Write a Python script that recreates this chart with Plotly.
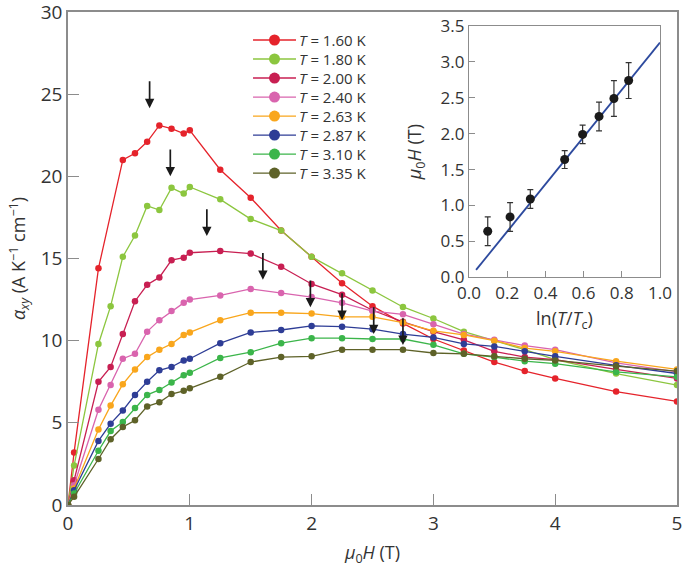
import plotly.graph_objects as go

# ---------------- data ----------------
temps = ["1.60", "1.80", "2.00", "2.40", "2.63", "2.87", "3.10", "3.35"]
colors = ["#e5232b", "#8cc63f", "#c81f52", "#d964ae", "#f9a61c", "#2e3d96", "#3bb54a", "#5e6228"]

field_red = [0, 0.05, 0.25, 0.45, 0.55, 0.65, 0.75, 0.85, 0.95, 1.0, 1.25, 1.5, 1.75,
             2.0, 2.25, 2.5, 2.75, 3.0, 3.25, 3.5, 3.75, 4.0, 4.5, 5.0]
field_all = [0, 0.05, 0.25, 0.35, 0.45, 0.55, 0.65, 0.75, 0.85, 0.95, 1.0, 1.25, 1.5, 1.75,
             2.0, 2.25, 2.5, 2.75, 3.0, 3.25, 3.5, 3.75, 4.0, 4.5, 5.0]

alpha_160 = [0, 3.2, 14.4, 21.0, 21.4, 22.1, 23.1, 22.9, 22.6, 22.8, 20.4, 18.7, 16.7,
             15.1, 13.5, 12.1, 11.05, 10.1, 9.4, 8.7, 8.15, 7.7, 6.9, 6.3]
alpha_180 = [0, 2.4, 9.8, 12.1, 15.1, 16.4, 18.2, 17.95, 19.3, 18.95, 19.35, 18.6, 17.4, 16.7,
             15.1, 14.1, 13.05, 12.05, 11.35, 10.55, 10.0, 9.45, 8.85, 8.0, 7.3]
alpha_200 = [0, 1.5, 7.5, 8.4, 10.4, 12.4, 13.4, 13.85, 14.9, 15.05, 15.35, 15.45, 15.3, 14.5,
             13.45, 12.8, 11.85, 11.15, 10.55, 10.05, 9.35, 9.0, 8.85, 8.25, 7.7]
alpha_240 = [0, 1.2, 5.8, 7.3, 8.9, 9.2, 10.55, 11.25, 11.8, 12.3, 12.5, 12.75, 13.15, 12.9,
             12.65, 12.3, 11.8, 11.6, 11.0, 10.4, 10.05, 9.7, 9.45, 8.65, 8.1]
alpha_263 = [0, 1.0, 4.6, 6.05, 7.35, 8.25, 9.0, 9.45, 9.8, 10.35, 10.5, 11.25, 11.7, 11.7,
             11.65, 11.45, 11.45, 11.1, 10.6, 10.35, 10.0, 9.55, 9.35, 8.75, 8.25]
alpha_287 = [0, 0.9, 3.9, 4.95, 5.75, 6.7, 7.5, 8.2, 8.4, 8.8, 8.9, 9.85, 10.5, 10.65,
             10.9, 10.85, 10.7, 10.4, 10.2, 9.8, 9.65, 9.35, 9.05, 8.5, 8.0]
alpha_310 = [0, 0.7, 3.3, 4.5, 5.05, 5.9, 6.7, 7.0, 7.45, 7.9, 8.05, 8.95, 9.3, 9.85,
             10.15, 10.15, 10.1, 10.1, 9.75, 9.2, 9.0, 8.75, 8.6, 8.1, 7.8]
alpha_335 = [0, 0.5, 2.8, 4.0, 4.75, 5.15, 6.0, 6.25, 6.75, 6.95, 7.1, 7.8, 8.7, 9.0,
             9.05, 9.45, 9.45, 9.45, 9.25, 9.2, 9.05, 8.9, 8.8, 8.45, 8.15]

series_x = [field_red] + [field_all] * 7
series_y = [alpha_160, alpha_180, alpha_200, alpha_240, alpha_263, alpha_287, alpha_310, alpha_335]

# arrows marking the kink field (tip position) on each curve
arrow_field = [0.67, 0.84, 1.14, 1.60, 1.99, 2.25, 2.51, 2.75]
arrow_tip = [24.15, 20.0, 16.37, 13.7, 12.03, 11.26, 10.4, 9.74]
arrow_len = 1.72

# inset
inset_lnT = [0.098, 0.215, 0.321, 0.501, 0.595, 0.681, 0.759, 0.836]
inset_H = [0.64, 0.84, 1.09, 1.64, 1.99, 2.24, 2.49, 2.74]
inset_err = [0.2, 0.2, 0.13, 0.125, 0.13, 0.2, 0.25, 0.25]
fit_slope = 3.29
fit_intercept = -0.02
fit_range = [0.037, 1.0]

# ---------------- figure ----------------
FONT = "Open Sans"
TXT = "#333333"
AX = "#8c8c8c"

fig = go.Figure()

for t, c, xs, ys in zip(temps, colors, series_x, series_y):
    fig.add_trace(go.Scatter(
        x=xs, y=ys, mode="lines+markers", showlegend=False,
        line=dict(color=c, width=1.3),
        marker=dict(color=c, size=6.5),
        xaxis="x", yaxis="y"))

# legend drawn on its own hidden axes: one row per temperature
for i, (t, c) in enumerate(zip(temps, colors)):
    fig.add_trace(go.Scatter(
        x=[0, 0.5, 1], y=[i, i, i], mode="lines", showlegend=False,
        line=dict(color=c, width=1.3), hoverinfo="skip",
        xaxis="x3", yaxis="y3"))
    fig.add_trace(go.Scatter(
        x=[0.5], y=[i], mode="markers", showlegend=False,
        marker=dict(color=c, size=11), hoverinfo="skip",
        xaxis="x3", yaxis="y3"))
    fig.add_annotation(x=1, y=i, xref="x3", yref="y3", text=f"<i>T</i> = {t} K",
                       showarrow=False, xanchor="left", yanchor="middle", xshift=1,
                       font=dict(family=FONT, size=15, color=TXT))

for xa, yt in zip(arrow_field, arrow_tip):
    fig.add_annotation(x=xa, y=yt, ax=xa, ay=yt + arrow_len, xref="x", yref="y",
                       axref="x", ayref="y", text="", showarrow=True,
                       arrowhead=2, arrowsize=1.1, arrowwidth=1.7, arrowcolor="#1a1a1a")

# inset traces
fig.add_trace(go.Scatter(
    x=fit_range, y=[fit_slope * v + fit_intercept for v in fit_range],
    mode="lines", line=dict(color="#2d4a9e", width=1.8), showlegend=False,
    xaxis="x2", yaxis="y2"))
fig.add_trace(go.Scatter(
    x=inset_lnT, y=inset_H, mode="markers", showlegend=False,
    marker=dict(color="#1a1a1a", size=9),
    error_y=dict(type="data", array=inset_err, color="#333333", thickness=1.2, width=3),
    xaxis="x2", yaxis="y2"))

fig.update_layout(
    width=685, height=569,
    margin=dict(l=68, r=8, t=12, b=64),
    paper_bgcolor="white", plot_bgcolor="white",
    font=dict(family=FONT, color=TXT, size=18),
    showlegend=False,
    xaxis=dict(range=[0, 5], tickvals=[0, 1, 2, 3, 4, 5], ticks="inside", ticklen=11,
               tickcolor=AX, showline=True, linecolor=AX, linewidth=1.5, mirror=True,
               showgrid=False, zeroline=False, tickfont=dict(size=19), automargin=False,
               ticklabeloverflow="allow",
               title=dict(text="<i>μ</i><sub>0</sub><i>H</i> (T)", font=dict(size=18), standoff=12)),
    yaxis=dict(range=[0, 30], tickvals=[0, 5, 10, 15, 20, 25, 30], ticks="inside", ticklen=11,
               tickcolor=AX, showline=True, linecolor=AX, linewidth=1.5, mirror=True,
               showgrid=False, zeroline=False, tickfont=dict(size=19), automargin=False,
               ticklabeloverflow="allow",
               title=dict(text="<i>α</i><sub><i>xy</i></sub> (A K<sup>−1</sup> cm<sup>−1</sup>)",
                          font=dict(size=18), standoff=10)),
    xaxis2=dict(domain=[0.6585, 0.972], anchor="y2", range=[0, 1],
                tickvals=[0, 0.2, 0.4, 0.6, 0.8, 1.0], tickformat=".1f",
                ticks="inside", ticklen=6, tickcolor=AX, showline=True, linecolor=AX,
                linewidth=1.3, mirror=True, showgrid=False, zeroline=False,
                tickfont=dict(size=17), automargin=False, ticklabeloverflow="allow",
                title=dict(text="ln(<i>T</i>/<i>T</i><sub>c</sub>)", font=dict(size=18), standoff=9)),
    yaxis2=dict(domain=[0.462, 0.9716], anchor="x2", range=[0, 3.5],
                tickvals=[0, 0.5, 1.0, 1.5, 2.0, 2.5, 3.0, 3.5], tickformat=".1f",
                ticks="inside", ticklen=6, tickcolor=AX, showline=True, linecolor=AX,
                linewidth=1.3, mirror=True, showgrid=False, zeroline=False,
                tickfont=dict(size=17), automargin=False, ticklabeloverflow="allow",
                title=dict(text="<i>μ</i><sub>0</sub><i>H</i> (T)", font=dict(size=18), standoff=14)),
    xaxis3=dict(domain=[0.3038, 0.3744], anchor="y3", range=[0, 1], visible=False,
                fixedrange=True),
    yaxis3=dict(domain=[0.654, 0.9625], anchor="x3", range=[7.5, -0.5], visible=False,
                fixedrange=True),
)

# remove the browser's default 8 px body margin so the figure starts at the page corner
fig.write_html("out.html", config={"displayModeBar": False},
               post_script="document.body.style.margin='0';document.body.style.overflow='hidden';")
